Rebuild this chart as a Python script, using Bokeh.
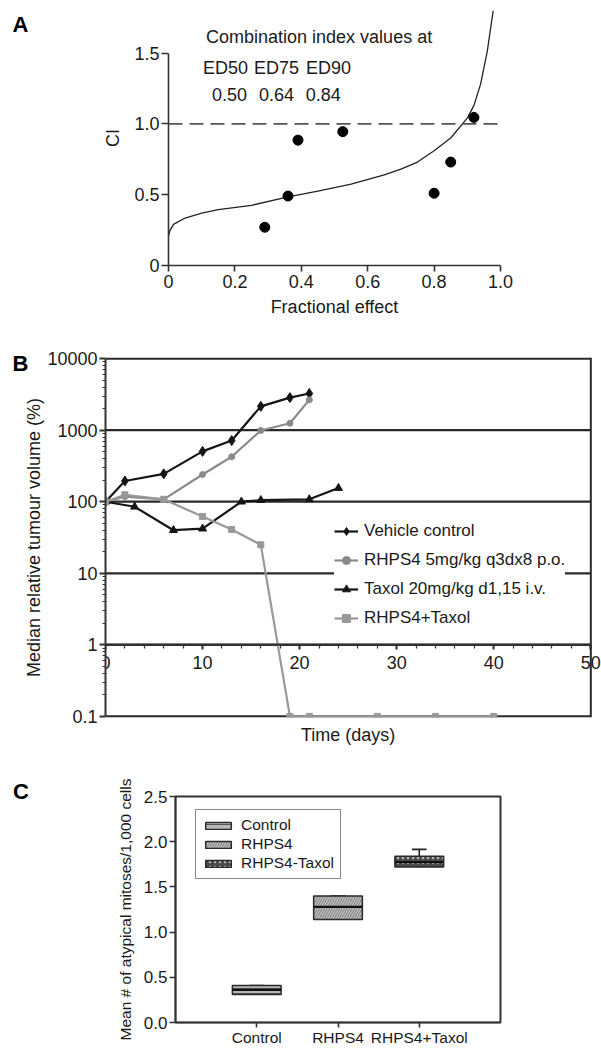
from bokeh.plotting import figure
from bokeh.layouts import column
from bokeh.models import (Range1d, FixedTicker, SingleIntervalTicker, CustomJSTickFormatter,
                          Label, Span, Legend, LegendItem, ColumnDataSource)
from bokeh.embed import file_html
from bokeh.resources import INLINE

FONT = "Liberation Sans"

# ---------------- Panel A data ----------------
ci_fa = [0.29, 0.36, 0.39, 0.525, 0.80, 0.85, 0.92]
ci_vals = [0.27, 0.49, 0.885, 0.945, 0.51, 0.73, 1.045]
curve_fa = [0.0, 0.005, 0.015, 0.05, 0.10, 0.15, 0.25, 0.36, 0.45, 0.55, 0.65,
            0.70, 0.75, 0.80, 0.85, 0.90, 0.92, 0.94, 0.96, 0.978]
curve_ci = [0.21, 0.25, 0.29, 0.335, 0.37, 0.395, 0.425, 0.485, 0.525, 0.575, 0.64,
            0.68, 0.73, 0.81, 0.90, 1.04, 1.13, 1.28, 1.51, 1.80]
ed_names = ["ED50", "ED75", "ED90"]
ed_ci = [0.50, 0.64, 0.84]
a_xticks = [0, 0.2, 0.4, 0.6, 0.8, 1.0]
a_yticks = [0, 0.5, 1.0, 1.5]

# ---------------- Panel B data ----------------
series_names = ["Vehicle control", "RHPS4 5mg/kg q3dx8 p.o.",
                "Taxol 20mg/kg d1,15 i.v.", "RHPS4+Taxol"]
days_vehicle = [0, 2, 6, 10, 13, 16, 19, 21]
vol_vehicle = [100, 195, 245, 505, 715, 2150, 2850, 3250]
days_rhps4 = [0, 2, 6, 10, 13, 16, 19, 21]
vol_rhps4 = [100, 118, 108, 240, 425, 990, 1250, 2650]
days_taxol = [0, 3, 7, 10, 14, 16, 21, 24]
vol_taxol = [100, 85, 40, 42, 100, 105, 108, 155]
days_combo = [0, 2, 6, 10, 13, 16, 19, 21, 28, 34, 40]
vol_combo = [100, 125, 108, 62, 41, 25, 0.1, 0.1, 0.1, 0.1, 0.1]
b_yticks = [0.1, 1, 10, 100, 1000, 10000]
b_xmax = 50

# ---------------- Panel C data ----------------
groups = ["Control", "RHPS4", "RHPS4+Taxol"]
legend_names = ["Control", "RHPS4", "RHPS4-Taxol"]
q1 = [0.31, 1.14, 1.72]
median = [0.36, 1.28, 1.775]
q3 = [0.41, 1.40, 1.84]
whisker_hi = [0.41, 1.40, 1.915]
c_yticks = [0.0, 0.5, 1.0, 1.5, 2.0, 2.5]

AX = "#333333"
TXT = "#1a1a1a"


def style_axis(ax, size, line_w=1.6):
    ax.axis_line_color = AX
    ax.axis_line_width = line_w
    ax.major_tick_line_color = AX
    ax.major_tick_line_width = line_w
    ax.minor_tick_line_color = AX
    ax.minor_tick_line_width = 1.2
    ax.major_tick_in = 0
    ax.minor_tick_in = 0
    ax.major_label_text_font = FONT
    ax.major_label_text_font_size = size
    ax.major_label_text_color = TXT
    ax.axis_label_text_font = FONT
    ax.axis_label_text_font_style = "normal"
    ax.axis_label_text_color = TXT


def letter(p, text, **kw):
    p.add_layout(Label(text=text, text_font=FONT, text_font_size="22px",
                       text_font_style="bold", text_color="black",
                       text_align="left", text_baseline="middle", **kw), "left")


# ================= Panel A =================
pa = figure(width=601, height=328, output_backend="svg", toolbar_location=None,
            x_range=Range1d(0, 1.0), y_range=Range1d(0, 1.8),
            min_border_left=168, min_border_right=101, min_border_top=10,
            min_border_bottom=63, frame_align=False)
pa.outline_line_color = None
pa.grid.visible = False

pa.line(curve_fa, curve_ci, line_color="#222222", line_width=1.3)
pa.add_layout(Span(location=1.0, dimension="width", line_color="#555555",
                   line_width=1.6, line_dash="14 7"))
pa.scatter(ci_fa, ci_vals, size=10, fill_color="black", line_color="black")

style_axis(pa.xaxis[0], "18px")
style_axis(pa.yaxis[0], "18px")
pa.xaxis.ticker = FixedTicker(ticks=a_xticks)
pa.yaxis.ticker = FixedTicker(ticks=a_yticks)
fmtA = CustomJSTickFormatter(code="return tick == 0 ? '0' : tick.toFixed(1);")
pa.xaxis.formatter = fmtA
pa.yaxis.formatter = fmtA
pa.yaxis.bounds = (0, 1.5)
pa.xaxis.major_tick_out = 6
pa.yaxis.major_tick_out = 7
pa.xaxis.major_label_standoff = 3
pa.yaxis.major_label_standoff = 2
pa.xaxis.axis_label = "Fractional effect"
pa.yaxis.axis_label = "CI"
pa.xaxis.axis_label_text_font_size = "18px"
pa.yaxis.axis_label_text_font_size = "18px"
pa.xaxis.axis_label_standoff = 6
pa.yaxis.axis_label_standoff = 8

pa.add_layout(Label(x=0.113, y=1.61, text="Combination index values at", text_font=FONT,
                    text_font_size="18px", text_color=TXT, text_align="left",
                    text_baseline="middle"))
ed_x_centers = [0.172, 0.325, 0.482]
val_x_centers = [0.184, 0.325, 0.466]
for name, v, xe, xv in zip(ed_names, ed_ci, ed_x_centers, val_x_centers):
    pa.add_layout(Label(x=xe, y=1.397, text=name, text_font=FONT, text_font_size="18px",
                        text_color=TXT, text_align="center", text_baseline="middle"))
    pa.add_layout(Label(x=xv, y=1.207, text=f"{v:.2f}", text_font=FONT,
                        text_font_size="18px", text_color=TXT, text_align="center",
                        text_baseline="middle"))
letter(pa, "A", x=-0.47, y=1.70)

# ================= Panel B =================
pb = figure(width=601, height=432, output_backend="svg", toolbar_location=None,
            x_range=Range1d(0, 51.1), y_range=Range1d(0.0965, 10360), y_axis_type="log",
            min_border_left=105, min_border_right=0, min_border_top=29,
            min_border_bottom=43, frame_align=False)
pb.outline_line_color = None
pb.grid.visible = False
# horizontal decade lines, limited to the data extent (0..50 days)
pb.segment(x0=[0] * len(b_yticks), y0=b_yticks, x1=[b_xmax] * len(b_yticks), y1=b_yticks,
           line_color="#2a2a2a", line_width=2.2)
pb.add_layout(Span(location=b_xmax, dimension="height", line_color="#2a2a2a", line_width=2))

style_axis(pb.xaxis[0], "18px", 2)
style_axis(pb.yaxis[0], "18px", 2)
pb.xaxis.fixed_location = 1
pb.xaxis.bounds = (0, b_xmax)
pb.yaxis.bounds = (min(b_yticks), max(b_yticks))
pb.xaxis.ticker = SingleIntervalTicker(interval=10, num_minor_ticks=5)
pb.xaxis.major_tick_out = 5
pb.xaxis.minor_tick_out = 4
pb.xaxis.major_label_standoff = 6
minor_b = [m * 10.0 ** e for e in range(-1, 4) for m in range(2, 10)]
pb.yaxis.ticker = FixedTicker(ticks=b_yticks, minor_ticks=minor_b)
pb.yaxis.formatter = CustomJSTickFormatter(code="return String(Number(tick.toPrecision(6)));")
pb.yaxis.major_tick_out = 6
pb.yaxis.minor_tick_out = 3
pb.yaxis.major_label_standoff = 2
pb.yaxis.axis_label = "Median relative tumour volume (%)"
pb.yaxis.axis_label_text_font_size = "18px"
pb.yaxis.axis_label_standoff = 0

BLACK = "#151515"
GREY1 = "#8a8a8a"
GREY2 = "#999999"
series = [
    (days_vehicle, vol_vehicle, BLACK, "diamond", 10),
    (days_rhps4, vol_rhps4, GREY1, "circle", 6),
    (days_taxol, vol_taxol, BLACK, "triangle", 8),
    (days_combo, vol_combo, GREY2, "square", 6),
]
items = []
for name, (dx, vy, col, mk, sz) in zip(series_names, series):
    rl = pb.line(dx, vy, line_color=col, line_width=2.2)
    rs = pb.scatter(dx, vy, marker=mk, size=sz, fill_color=col, line_color=col)
    items.append(LegendItem(label=name, renderers=[rl, rs]))
legB = Legend(items=items, location=(229, 89), background_fill_color="white",
              background_fill_alpha=1, border_line_color=None,
              label_text_font=FONT, label_text_font_size="17px", label_text_color=TXT,
              glyph_width=24, glyph_height=20, label_height=20, spacing=9, padding=6,
              label_standoff=6, margin=0)
pb.add_layout(legB)
pb.add_layout(Label(x=25, y=0.0543, text="Time (days)", text_font=FONT,
                    text_font_size="18px", text_color=TXT, text_align="center",
                    text_baseline="middle"), "below")
letter(pb, "B", x=12, y=34.5, x_units="canvas", y_units="canvas")

# ================= Panel C =================
pc = figure(width=601, height=288, output_backend="svg", toolbar_location=None,
            x_range=Range1d(0, 4), y_range=Range1d(0, 2.5),
            min_border_left=175, min_border_right=101, min_border_top=36,
            min_border_bottom=25, frame_align=False)
pc.outline_line_color = AX
pc.outline_line_width = 2
pc.grid.visible = False

xpos = [i + 1 for i in range(len(groups))]
bw = 0.6
src = ColumnDataSource(dict(
    x=xpos, q1=q1, q3=q3, med=median, hi=whisker_hi,
    x0=[x - bw / 2 for x in xpos], x1=[x + bw / 2 for x in xpos],
    c0=[x - 0.09 for x in xpos], c1=[x + 0.09 for x in xpos],
    fill=["#b8b8b8", "#8a8a8a", "#4a4a4a"],
    hatch=["horizontal_line", "right_diagonal_line", "dot"],
    hcol=["#555555", "#d0d0d0", "#bbbbbb"],
))
pc.segment(x0="x", y0="q3", x1="x", y1="hi", line_color="#222222", line_width=1.6, source=src)
pc.segment(x0="c0", y0="hi", x1="c1", y1="hi", line_color="#222222", line_width=1.6, source=src)
rbox = pc.vbar(x="x", width=bw, bottom="q1", top="q3", fill_color="fill",
               line_color="#2a2a2a", line_width=1.5, hatch_pattern="hatch",
               hatch_color="hcol", hatch_scale=5, hatch_weight=1, source=src)
pc.segment(x0="x0", y0="med", x1="x1", y1="med", line_color="#111111", line_width=2.2,
           source=src)

style_axis(pc.xaxis[0], "15.5px", 1.6)
style_axis(pc.yaxis[0], "17px", 1.6)
pc.xaxis.ticker = FixedTicker(ticks=xpos)
pc.xaxis.formatter = CustomJSTickFormatter(
    args=dict(names=groups),
    code="const i = Math.round(tick) - 1; return (i >= 0 && i < names.length) ? names[i] : '';")
pc.xaxis.major_tick_out = 5
pc.xaxis.major_label_standoff = 1
pc.xaxis.minor_tick_line_color = None
pc.yaxis.ticker = FixedTicker(ticks=c_yticks)
pc.yaxis.formatter = CustomJSTickFormatter(code="return tick.toFixed(1);")
pc.yaxis.major_tick_out = 6
pc.yaxis.minor_tick_line_color = None
pc.yaxis.major_label_standoff = 2
pc.yaxis.axis_label = "Mean # of atypical mitoses/1,000 cells"
pc.yaxis.axis_label_text_font_size = "15.5px"
pc.yaxis.axis_label_standoff = 7

legC = Legend(items=[LegendItem(label=n, renderers=[rbox], index=i)
                     for i, n in enumerate(legend_names)],
              location=(20, 143), background_fill_color="white", background_fill_alpha=1,
              border_line_color="#111111", border_line_width=1.5,
              label_text_font=FONT, label_text_font_size="15.5px", label_text_color=TXT,
              glyph_width=32, glyph_height=9, label_height=17, spacing=1, padding=6,
              label_standoff=7, margin=0)
pc.add_layout(legC)
letter(pc, "C", x=-2.0, y=2.555)

layout = column(pa, pb, pc, spacing=0)
open("out.html", "w").write(file_html(layout, INLINE))
